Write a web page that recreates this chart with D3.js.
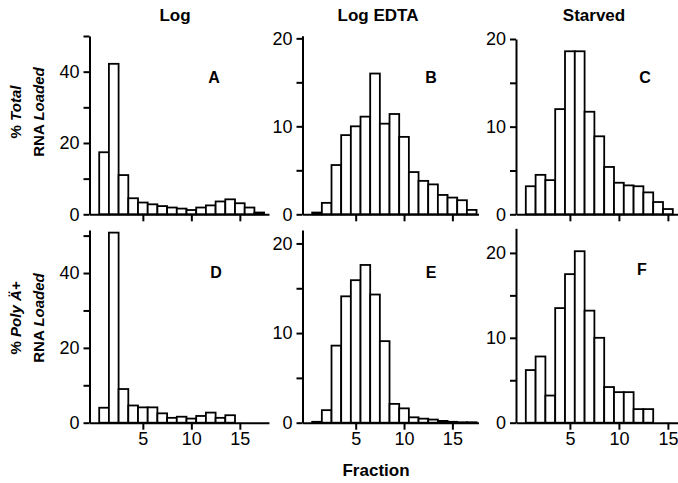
<!DOCTYPE html>
<html>
<head>
<meta charset="utf-8">
<script src="https://cdn.jsdelivr.net/npm/d3@7"></script>
<style>
  body { margin: 0; background: #fff; }
  svg { display: block; }
  .axis path, .axis line { stroke: #000; stroke-width: 2px; }
  .axis text { font-family: "Liberation Sans", Arial, sans-serif; font-size: 18px; fill: #000; }
  .title { font-family: "Liberation Sans", Arial, sans-serif; font-weight: bold; font-size: 17px; }
</style>
</head>
<body>
<div id="chart"></div>
<script>
// values, fraction 1..n
const logTotal = [17.4, 42.2, 11.0, 4.5, 3.3, 2.8, 2.3, 1.9, 1.6, 1.2, 1.9, 2.5, 3.6, 4.2, 3.1, 1.9, 0.5];
const edtaTotal = [0.2, 1.3, 5.6, 9.0, 10.0, 11.1, 16.0, 10.3, 11.4, 8.8, 4.8, 3.8, 3.4, 2.2, 1.9, 1.6, 0.5];
const starvedTotal = [3.2, 4.5, 3.9, 12.0, 18.6, 18.6, 11.7, 8.9, 5.4, 3.6, 3.3, 3.2, 2.5, 1.4, 0.6];
const logPolyA = [4.0, 50.8, 9.0, 4.6, 4.1, 4.1, 2.5, 1.3, 1.6, 1.1, 1.8, 2.7, 1.3, 2.0];
const edtaPolyA = [0.1, 1.4, 8.6, 14.1, 15.9, 17.6, 14.3, 9.1, 2.1, 1.6, 0.6, 0.45, 0.35, 0.2, 0.1, 0.05, 0.05];
const starvedPolyA = [6.2, 7.8, 3.2, 13.5, 17.5, 20.2, 13.2, 10.0, 4.2, 3.6, 3.6, 1.6, 1.6];

const columnTitles = ["Log", "Log EDTA", "Starved"];
const panelLetters = ["A", "B", "C", "D", "E", "F"];
const xTickValues = [5, 10, 15];
const yTicksLog = [0, 10, 20, 30, 40, 50];
const yLabelsLog = [0, 20, 40];
const yTicksOther = [0, 5, 10, 15, 20];
const yLabelsOther = [0, 10, 20];

const width = 678, height = 483;

let svg = d3.select("#chart").append("svg")
    .attr("width", width)
    .attr("height", height);

// layout of the 3 columns and 2 rows
let cols = [
    {left: 89.5, unit: 9.7, xMax: 18, title: 175},
    {left: 302.5, unit: 9.67, xMax: 17.7, title: 378},
    {left: 516, unit: 9.8, xMax: 16.1, title: 594}
];
let rows = [
    {zero: 214.3, label: 112},
    {zero: 422.7, label: 318}
];

let panels = [
    {data: logTotal, col: 0, row: 0, yMax: 50, top: 36, log: true, letter: [214, 83]},
    {data: edtaTotal, col: 1, row: 0, yMax: 20.3, top: 35.7, log: false, letter: [431, 83]},
    {data: starvedTotal, col: 2, row: 0, yMax: 20, top: 39, log: false, letter: [645, 83]},
    {data: logPolyA, col: 0, row: 1, yMax: 51.5, top: 230, log: true, letter: [216, 278]},
    {data: edtaPolyA, col: 1, row: 1, yMax: 21.5, top: 230, log: false, letter: [431, 278]},
    {data: starvedPolyA, col: 2, row: 1, yMax: 22.9, top: 228.3, log: false, letter: [642, 275]}
];

panels.forEach(function(p, i) {
    let c = cols[p.col], r = rows[p.row];

    let x = d3.scaleLinear()
        .domain([-0.5, c.xMax])
        .range([c.left, c.left + (c.xMax + 0.5) * c.unit]);

    let y = d3.scaleLinear()
        .domain([0, p.yMax])
        .range([r.zero, p.top]);

    let g = svg.append("g");

    // bars, one per fraction
    g.selectAll("rect")
        .data(p.data)
        .enter().append("rect")
        .attr("x", (d, k) => x(k + 0.5))
        .attr("width", (d, k) => x(k + 1.5) - x(k + 0.5))
        .attr("y", d => y(d))
        .attr("height", d => y(0) - y(d))
        .attr("fill", "#fff")
        .attr("stroke", "#000")
        .attr("stroke-width", 1.8);

    let labels = p.log ? yLabelsLog : yLabelsOther;
    let yAxis = d3.axisLeft(y)
        .tickValues(p.log ? yTicksLog : yTicksOther)
        .tickSize(6)
        .tickSizeOuter(0)
        .tickPadding(4)
        .tickFormat(d => labels.includes(d) ? d : "");

    let xAxis = d3.axisBottom(x)
        .tickValues(xTickValues)
        .tickSize(7)
        .tickSizeOuter(0)
        .tickPadding(3)
        .tickFormat(d => p.row === 1 ? d : "");

    g.append("g")
        .attr("class", "axis")
        .attr("transform", "translate(0," + r.zero + ")")
        .call(xAxis);

    g.append("g")
        .attr("class", "axis")
        .attr("transform", "translate(" + c.left + ",0)")
        .call(yAxis);

    g.selectAll(".axis .domain").attr("fill", "none");

    g.append("text")
        .attr("class", "title")
        .attr("x", p.letter[0])
        .attr("y", p.letter[1])
        .attr("text-anchor", "middle")
        .style("font-size", "16px")
        .text(panelLetters[i]);
});

// column titles
svg.selectAll(".coltitle")
    .data(columnTitles)
    .enter().append("text")
    .attr("class", "title")
    .attr("x", (d, i) => cols[i].title)
    .attr("y", 21)
    .attr("text-anchor", "middle")
    .text(d => d);

svg.append("text")
    .attr("class", "title")
    .attr("x", 376)
    .attr("y", 476)
    .attr("text-anchor", "middle")
    .text("Fraction");

// rotated y labels
let yLabelLines = [
    [["% ", "normal"], ["Total", "italic"]],
    [["RNA ", "normal"], ["Loaded", "italic"]],
    [["% ", "normal"], ["Poly Ä+", "italic"]],
    [["RNA ", "normal"], ["Loaded", "italic"]]
];

yLabelLines.forEach(function(line, i) {
    let r = rows[Math.floor(i / 2)];
    let bx = i % 2 === 0 ? 21 : 44;
    let t = svg.append("text")
        .attr("class", "title")
        .attr("transform", "translate(" + bx + "," + r.label + ") rotate(-90)")
        .attr("text-anchor", "middle")
        .style("font-size", "15px");
    line.forEach(function(part) {
        t.append("tspan").style("font-style", part[1]).text(part[0]);
    });
});
</script>
</body>
</html>
